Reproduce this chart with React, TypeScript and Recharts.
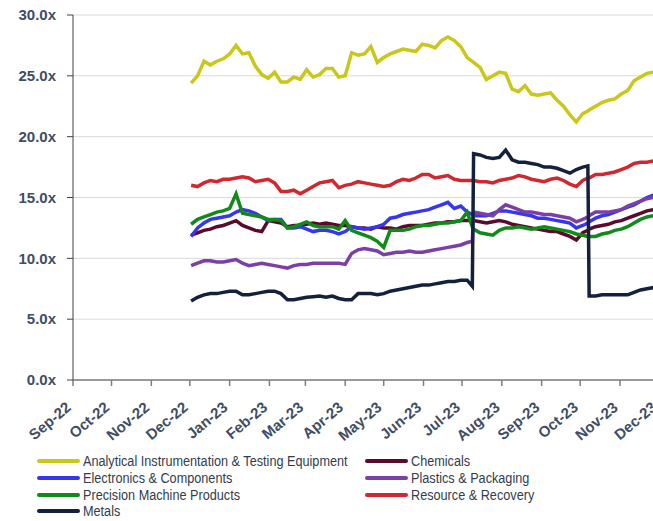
import { LineChart, Line, XAxis, YAxis, CartesianGrid } from 'recharts';

// sample dates (5-day grid, plus the days either side of the two Metals jumps)
const DATES = [
  '2022-12-02', '2022-12-07', '2022-12-12', '2022-12-17', '2022-12-22', '2022-12-27',
  '2023-01-01', '2023-01-06', '2023-01-11', '2023-01-16', '2023-01-21', '2023-01-26', '2023-01-31',
  '2023-02-05', '2023-02-10', '2023-02-15', '2023-02-20', '2023-02-25',
  '2023-03-02', '2023-03-07', '2023-03-12', '2023-03-17', '2023-03-22', '2023-03-27',
  '2023-04-01', '2023-04-06', '2023-04-11', '2023-04-16', '2023-04-21', '2023-04-26',
  '2023-05-01', '2023-05-06', '2023-05-11', '2023-05-16', '2023-05-21', '2023-05-26', '2023-05-31',
  '2023-06-05', '2023-06-10', '2023-06-15', '2023-06-20', '2023-06-25', '2023-06-30',
  '2023-07-05', '2023-07-09', '2023-07-10', '2023-07-15', '2023-07-20', '2023-07-25', '2023-07-30',
  '2023-08-04', '2023-08-09', '2023-08-14', '2023-08-19', '2023-08-24', '2023-08-29',
  '2023-09-03', '2023-09-08', '2023-09-13', '2023-09-18', '2023-09-23', '2023-09-28',
  '2023-10-03', '2023-10-07', '2023-10-08', '2023-10-13', '2023-10-18', '2023-10-23', '2023-10-28',
  '2023-11-02', '2023-11-07', '2023-11-12', '2023-11-17', '2023-11-22', '2023-11-27', '2023-12-02',
];

const ANALYTICAL = [
  24.4, 25.0, 26.2, 25.9, 26.2, 26.4,
  26.8, 27.5, 26.8, 26.9, 25.8, 25.1, 24.8,
  25.3, 24.5, 24.5, 24.9, 24.7,
  25.5, 24.9, 25.1, 25.6, 25.6, 24.9,
  25.0, 26.9, 26.7, 26.8, 27.4, 26.1,
  26.5, 26.8, 27.0, 27.2, 27.1, 27.0, 27.6,
  27.5, 27.3, 27.9, 28.2, 27.9, 27.4,
  26.5, 26.2, 26.1, 25.7, 24.7, 25.0, 25.3,
  25.2, 23.9, 23.7, 24.2, 23.5, 23.4,
  23.5, 23.6, 23.0, 22.5, 21.8, 21.2,
  21.9, 22.1, 22.2, 22.5, 22.8, 23.0, 23.1,
  23.5, 23.8, 24.6, 24.9, 25.2, 25.3, 25.4,
];

const CHEMICALS = [
  11.9, 12.1, 12.3, 12.4, 12.6, 12.7,
  12.9, 13.1, 12.7, 12.5, 12.3, 12.2, 13.1,
  13.0, 12.9, 12.6, 12.7, 12.7,
  12.8, 12.9, 12.8, 12.9, 12.8, 12.7,
  12.7, 12.6, 12.5, 12.5, 12.4, 12.6,
  12.5, 12.5, 12.4, 12.6, 12.7, 12.7, 12.7,
  12.8, 12.9, 12.9, 13.0, 13.0, 13.1,
  13.1, 13.1, 13.1, 13.0, 12.9, 13.0, 13.1,
  13.0, 12.8, 12.7, 12.6, 12.5, 12.4,
  12.3, 12.2, 12.2, 12.0, 11.8, 11.5,
  12.1, 12.3, 12.4, 12.6, 12.7, 12.8, 13.0,
  13.1, 13.3, 13.5, 13.7, 13.9, 14.0, 14.0,
];

const ELECTRONICS = [
  11.8, 12.5, 12.9, 13.2, 13.3, 13.4,
  13.5, 13.8, 14.0, 13.9, 13.7, 13.4, 13.1,
  13.2, 13.2, 12.5, 12.5, 12.6,
  12.4, 12.2, 12.3, 12.3, 12.2, 12.0,
  12.2, 12.6, 12.5, 12.4, 12.5, 12.6,
  12.8, 13.3, 13.4, 13.6, 13.7, 13.8, 13.9,
  14.0, 14.2, 14.4, 14.6, 14.1, 14.3,
  13.8, 13.6, 13.5, 13.5, 13.5, 13.7, 13.9,
  13.9, 13.8, 13.7, 13.6, 13.5, 13.3,
  13.3, 13.2, 13.1, 13.0, 12.9, 12.5,
  12.7, 12.9, 13.0, 13.3, 13.5, 13.6, 13.8,
  14.0, 14.2, 14.4, 14.7, 15.0, 15.2, 15.3,
];

const PLASTICS = [
  9.4, 9.6, 9.8, 9.8, 9.7, 9.7,
  9.8, 9.9, 9.6, 9.4, 9.5, 9.6, 9.5,
  9.4, 9.3, 9.2, 9.4, 9.5,
  9.5, 9.6, 9.6, 9.6, 9.6, 9.6,
  9.5, 10.4, 10.7, 10.8, 10.7, 10.6,
  10.3, 10.4, 10.5, 10.5, 10.6, 10.5, 10.5,
  10.6, 10.7, 10.8, 10.9, 11.0, 11.1,
  11.3, 11.4, 13.8, 13.7, 13.6, 13.5, 14.0,
  14.4, 14.2, 14.0, 13.8, 13.8, 13.7,
  13.6, 13.6, 13.5, 13.4, 13.3, 13.0,
  13.2, 13.4, 13.5, 13.8, 13.8, 13.8, 13.9,
  14.0, 14.3, 14.5, 14.7, 14.9, 15.0, 15.0,
];

const PRECISION = [
  12.8, 13.2, 13.4, 13.6, 13.8, 13.9,
  14.1, 15.3, 13.7, 13.6, 13.5, 13.4, 13.2,
  13.2, 13.1, 12.5, 12.6, 12.8,
  13.0, 12.7, 12.6, 12.6, 12.6, 12.4,
  13.1, 12.3, 12.1, 11.9, 11.7, 11.4,
  10.9, 12.3, 12.3, 12.3, 12.4, 12.6, 12.7,
  12.7, 12.8, 12.9, 12.9, 13.0, 13.1,
  13.8, 12.6, 12.4, 12.1, 12.0, 11.9, 12.3,
  12.5, 12.5, 12.6, 12.5, 12.4, 12.5,
  12.6, 12.5, 12.4, 12.3, 12.2, 12.0,
  11.9, 11.8, 11.8, 11.8, 12.0, 12.1, 12.3,
  12.4, 12.6, 12.9, 13.2, 13.4, 13.5, 13.6,
];

const RESOURCE = [
  16.0, 15.9, 16.2, 16.4, 16.3, 16.5,
  16.5, 16.6, 16.7, 16.6, 16.3, 16.4, 16.5,
  16.2, 15.5, 15.5, 15.6, 15.3,
  15.6, 15.9, 16.2, 16.3, 16.4, 15.8,
  16.0, 16.1, 16.3, 16.2, 16.1, 16.0,
  15.9, 16.0, 16.3, 16.5, 16.4, 16.6, 16.9,
  16.9, 16.6, 16.7, 16.8, 16.5, 16.4,
  16.4, 16.4, 16.4, 16.3, 16.3, 16.2, 16.4,
  16.5, 16.6, 16.8, 16.7, 16.5, 16.4,
  16.3, 16.5, 16.6, 16.4, 16.1, 15.9,
  16.4, 16.6, 16.6, 16.9, 16.9, 17.0, 17.1,
  17.3, 17.5, 17.8, 17.9, 17.9, 18.0, 18.0,
];

const METALS = [
  6.5, 6.8, 7.0, 7.1, 7.1, 7.2,
  7.3, 7.3, 7.0, 7.0, 7.1, 7.2, 7.3,
  7.3, 7.1, 6.6, 6.6, 6.7,
  6.8, 6.85, 6.9, 6.8, 6.9, 6.7,
  6.6, 6.6, 7.1, 7.1, 7.1, 7.0,
  7.1, 7.3, 7.4, 7.5, 7.6, 7.7, 7.8,
  7.8, 7.9, 8.0, 8.1, 8.1, 8.2,
  8.2, 7.7, 18.6, 18.5, 18.3, 18.2, 18.3,
  18.9, 18.1, 17.9, 17.9, 17.8, 17.7,
  17.5, 17.5, 17.4, 17.2, 17.0, 17.3,
  17.5, 17.6, 6.9, 6.9, 7.0, 7.0, 7.0,
  7.0, 7.0, 7.2, 7.4, 7.5, 7.6, 7.7,
];

const MONTH_TICKS = [
  '2022-09-01', '2022-10-01', '2022-11-01', '2022-12-01',
  '2023-01-01', '2023-02-01', '2023-03-01', '2023-04-01',
  '2023-05-01', '2023-06-01', '2023-07-01', '2023-08-01',
  '2023-09-01', '2023-10-01', '2023-11-01', '2023-12-01',
];
const MONTH_NAMES = ['Jan', 'Feb', 'Mar', 'Apr', 'May', 'Jun', 'Jul', 'Aug', 'Sep', 'Oct', 'Nov', 'Dec'];
const Y_TICKS = [0, 5, 10, 15, 20, 25, 30];

const SERIES = [
  { key: 'analytical', name: 'Analytical Instrumentation & Testing Equipment', color: '#c9c71a', values: ANALYTICAL },
  { key: 'chemicals', name: 'Chemicals', color: '#5a0a2a', values: CHEMICALS },
  { key: 'electronics', name: 'Electronics & Components', color: '#3636ee', values: ELECTRONICS },
  { key: 'plastics', name: 'Plastics & Packaging', color: '#7b3fa6', values: PLASTICS },
  { key: 'precision', name: 'Precision Machine Products', color: '#118a1a', values: PRECISION },
  { key: 'resource', name: 'Resource & Recovery', color: '#d0282e', values: RESOURCE },
  { key: 'metals', name: 'Metals', color: '#14213d', values: METALS },
];

const data = DATES.map((d, i) => {
  const row: Record<string, number> = { t: Date.parse(d) };
  SERIES.forEach((s) => {
    row[s.key] = s.values[i];
  });
  return row;
});

const AXIS_TEXT = '#404d64';

function MonthTick({ x, y, payload }: { x: number; y: number; payload: { value: number } }) {
  const d = new Date(payload.value);
  const label = `${MONTH_NAMES[d.getUTCMonth()]}-${String(d.getUTCFullYear()).slice(2)}`;
  const px = x - 1;
  const py = y + 21;
  return (
    <text
      x={px}
      y={py}
      textAnchor="end"
      transform={`rotate(-40, ${px}, ${py})`}
      fill={AXIS_TEXT}
      fontSize={15}
      fontWeight={700}
      fontFamily="'Liberation Sans', Arial, sans-serif"
    >
      {label}
    </text>
  );
}

function LegendBlock() {
  const item = (s: (typeof SERIES)[number]) => (
    <div key={s.key} style={{ display: 'flex', alignItems: 'center', height: 16.7 }}>
      <span
        style={{ flex: '0 0 auto', width: 43, height: 4, borderRadius: 2, background: s.color, marginRight: 3 }}
      />
      <span style={{ display: 'inline-block', transform: 'scaleX(0.905)', transformOrigin: 'left center' }}>
        {s.name}
      </span>
    </div>
  );
  const left = [SERIES[0], SERIES[2], SERIES[4], SERIES[6]];
  const right = [SERIES[1], SERIES[3], SERIES[5]];
  return (
    <div
      style={{
        position: 'absolute',
        top: 453,
        left: 37,
        display: 'flex',
        fontFamily: "'Liberation Sans', Arial, sans-serif",
        fontSize: 14,
        color: '#333c4e',
        whiteSpace: 'nowrap',
      }}
    >
      <div style={{ width: 328 }}>{left.map(item)}</div>
      <div>{right.map(item)}</div>
    </div>
  );
}

export default function App() {
  return (
    <div
      style={{
        position: 'absolute',
        left: 0,
        top: 0,
        width: 653,
        height: 521,
        overflow: 'hidden',
        background: '#ffffff',
      }}
    >
      <LineChart
        width={697}
        height={450}
        data={data}
        margin={{ top: 15, right: 0, bottom: 0, left: 0 }}
      >
        <CartesianGrid vertical={false} stroke="#d9d9d9" />
        <XAxis
          dataKey="t"
          type="number"
          domain={[Date.parse('2022-09-01'), Date.parse('2023-12-31')]}
          ticks={MONTH_TICKS.map((m) => Date.parse(m))}
          tick={MonthTick}
          tickSize={6}
          tickMargin={2}
          height={70}
          stroke="#7f7f7f"
          strokeWidth={1.5}
          allowDataOverflow
          interval={0}
        />
        <YAxis
          domain={[0, 30]}
          ticks={Y_TICKS}
          width={73}
          tickSize={6}
          tickMargin={11}
          stroke="#404040"
          interval={0}
          tickFormatter={(v: number) => `${v.toFixed(1)}x`}
          tick={{ fill: AXIS_TEXT, fontSize: 15, fontWeight: 700, fontFamily: "'Liberation Sans', Arial, sans-serif" }}
        />
        {SERIES.map((s) => (
          <Line
            key={s.key}
            dataKey={s.key}
            name={s.name}
            stroke={s.color}
            strokeWidth={3.5}
            dot={false}
            type="linear"
            isAnimationActive={false}
          />
        ))}
      </LineChart>
      <LegendBlock />
    </div>
  );
}
